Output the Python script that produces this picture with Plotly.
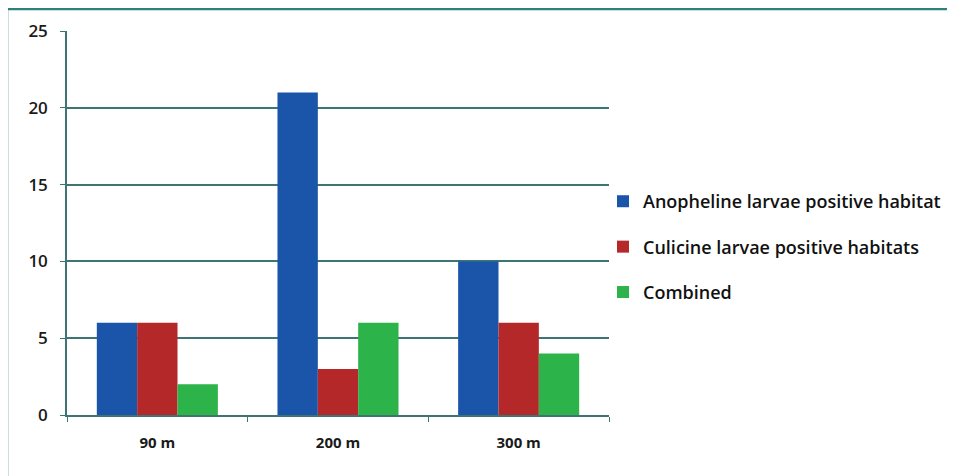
import plotly.graph_objects as go

categories = ["90 m", "200 m", "300 m"]
anopheline = [6, 21, 10]
culicine = [6, 3, 6]
combined = [2, 6, 4]
series_names = ["Anopheline larvae positive habitat", "Culicine larvae positive habitats", "Combined"]
colors = ["#1a55aa", "#b4282a", "#2cb34a"]
y_ticks = [0, 5, 10, 15, 20, 25]

fig = go.Figure()
for i, (name, vals) in enumerate(zip(series_names, [anopheline, culicine, combined])):
    fig.add_trace(go.Bar(x=categories, y=vals, name=name, marker_color=colors[i],
                         marker_line_width=0, legendgroup=str(i)))

axis_color = "#3d7474"
W, H = 947, 468
L, T, PW, PH = 59, 23, 542, 384
fig.update_layout(
    width=W, height=H,
    margin=dict(l=L, r=W - L - PW, t=T, b=H - T - PH, autoexpand=False),
    paper_bgcolor="white", plot_bgcolor="white",
    barmode="group", bargap=0.33, bargroupgap=0,
    font=dict(family="Open Sans", color="#1a1a1a"),
    showlegend=True,
    legend=dict(xref="container", yref="container", x=0.6283, y=0.626,
                xanchor="left", yanchor="top", tracegroupgap=19,
                font=dict(size=18, family="Open Sans", color="#111", weight=600),
                itemwidth=30, bgcolor="rgba(0,0,0,0)"),
    xaxis=dict(showline=True, linecolor=axis_color, linewidth=1.5,
               ticks="outside", tickson="boundaries", ticklen=5, tickcolor=axis_color,
               tickfont=dict(size=15, family="Open Sans", color="#1a1a1a", weight="bold"),
               ticklabelstandoff=13, showgrid=False, automargin=False),
    yaxis=dict(range=[0, 25], tickvals=y_ticks, showline=True, linecolor=axis_color, linewidth=1.5,
               ticks="outside", ticklen=5, tickcolor=axis_color,
               showgrid=True, gridcolor=axis_color, gridwidth=1.5, zeroline=False,
               tickfont=dict(size=17, family="Open Sans", color="#1a1a1a", weight=600),
               ticklabelstandoff=9, automargin=False),
    shapes=[
        dict(type="line", xref="paper", yref="paper",
             x0=-60 / PW, x1=2.0, y0=(PH + 22) / PH, y1=(PH + 22) / PH,
             line=dict(color="#2f7f7f", width=2.5)),
        dict(type="line", xref="paper", yref="paper",
             x0=-60 / PW, x1=-60 / PW, y0=(PH + 22) / PH, y1=-1.0,
             line=dict(color="#2f7f7f", width=2.5)),
    ],
)
fig.write_html("out.html")
